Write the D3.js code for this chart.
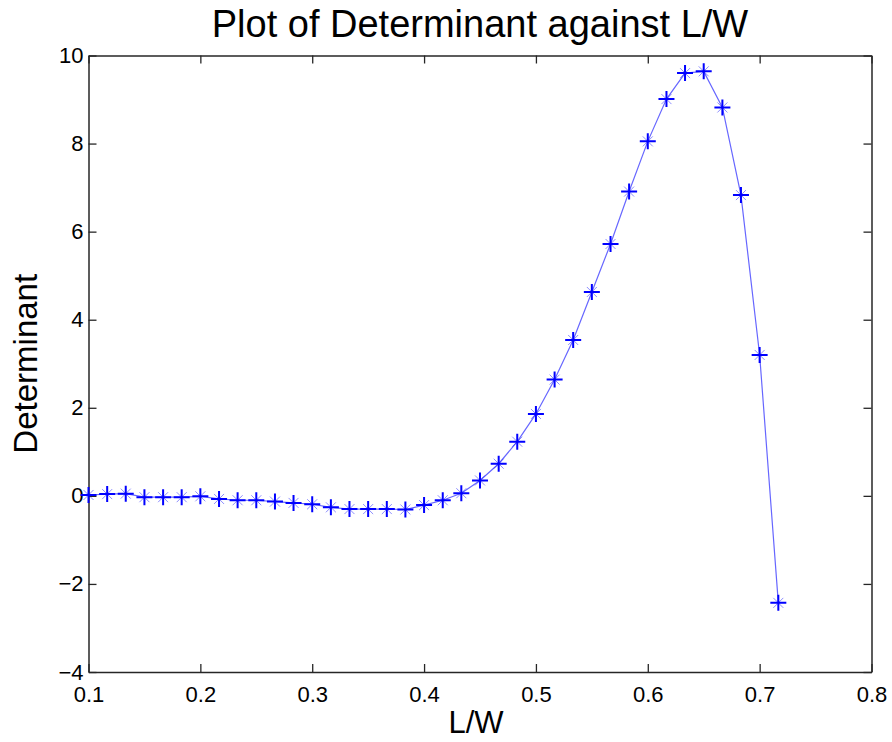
<!DOCTYPE html>
<html>
<head>
<meta charset="utf-8">
<script src="https://cdn.jsdelivr.net/npm/d3@7"></script>
<style>
	body { margin: 0; background: #fff; }
	text { font-family: "Liberation Sans", Arial, sans-serif; fill: #000; }
</style>
</head>
<body>
<div id="chart"></div>
<script>
(function() {
	// data
	var lw = [0.1, 0.1167, 0.1333, 0.15, 0.1667, 0.1833, 0.2, 0.2167, 0.2333, 0.25,
		0.2667, 0.2833, 0.3, 0.3167, 0.3333, 0.35, 0.3667, 0.3833, 0.4, 0.4167,
		0.4333, 0.45, 0.4667, 0.4833, 0.5, 0.5167, 0.5333, 0.55, 0.5667, 0.5833,
		0.6, 0.6167, 0.6333, 0.65, 0.6667, 0.6833, 0.7, 0.7167];
	var det = [0.02, 0.04, 0.05, -0.03, -0.03, -0.03, -0.01, -0.07, -0.10, -0.10,
		-0.13, -0.16, -0.19, -0.26, -0.30, -0.30, -0.30, -0.31, -0.21, -0.10,
		0.06, 0.35, 0.73, 1.23, 1.86, 2.64, 3.54, 4.63, 5.72, 6.91,
		8.05, 9.01, 9.60, 9.64, 8.82, 6.83, 3.20, -2.43];
	var xTicks = [0.1, 0.2, 0.3, 0.4, 0.5, 0.6, 0.7, 0.8];
	var yTicks = [-4, -2, 0, 2, 4, 6, 8, 10];

	var width = 892;
	var height = 742;
	var left = 88.5, right = 871.5, top = 55.5, bottom = 672;

	var svg = d3.select("#chart")
		.append("svg")
		.attr("width", width)
		.attr("height", height);

	var x = d3.scaleLinear().domain([0.1, 0.8]).range([left, right]);
	var y = d3.scaleLinear().domain([-4, 10]).range([bottom, top]);

	// axes, ticks pointing inward like matlab
	var fmtY = function(d) { return d < 0 ? "\u2212" + Math.abs(d) : d; };
	svg.append("g")
		.attr("transform", "translate(0," + bottom + ")")
		.call(d3.axisBottom(x).tickValues(xTicks).tickFormat(d3.format(".1f"))
			.tickSize(-8).tickSizeOuter(0).tickPadding(14));
	svg.append("g")
		.attr("transform", "translate(0," + top + ")")
		.call(d3.axisTop(x).tickValues(xTicks).tickFormat("").tickSize(-8).tickSizeOuter(0));
	svg.append("g")
		.attr("transform", "translate(" + left + ",0)")
		.call(d3.axisLeft(y).tickValues(yTicks).tickFormat(fmtY)
			.tickSize(-8).tickSizeOuter(0).tickPadding(5));
	svg.append("g")
		.attr("transform", "translate(" + right + ",0)")
		.call(d3.axisRight(y).tickValues(yTicks).tickFormat("").tickSize(-8).tickSizeOuter(0));

	svg.selectAll(".domain").attr("stroke", "#262626").attr("stroke-width", 1.5);
	svg.selectAll(".tick line").attr("stroke", "#262626").attr("stroke-width", 1.3);
	svg.selectAll(".tick text")
		.attr("font-size", 22)
		.attr("font-family", "Liberation Sans, Arial, sans-serif")
		.attr("fill", "#000");

	// line
	var line = d3.line()
		.x(function(d, i) { return x(lw[i]); })
		.y(function(d) { return y(d); });
	svg.append("path")
		.datum(det)
		.attr("fill", "none")
		.attr("stroke", "#0000ff")
		.attr("stroke-opacity", 0.6)
		.attr("stroke-width", 1.2)
		.attr("d", line);

	// '*' markers
	var m = svg.append("g").selectAll("g")
		.data(det)
		.enter()
		.append("g")
		.attr("transform", function(d, i) { return "translate(" + x(lw[i]) + "," + y(d) + ")"; });
	m.append("path")
		.attr("d", "M-5,-5L5,5M-5,5L5,-5")
		.attr("stroke", "#0000ff")
		.attr("stroke-opacity", 0.45)
		.attr("stroke-width", 1);
	m.append("path")
		.attr("d", "M-8,0H8M0,-8V8")
		.attr("stroke", "#0000ff")
		.attr("stroke-width", 2);

	// titles
	svg.append("text")
		.attr("x", (left + right) / 2)
		.attr("y", 37)
		.attr("text-anchor", "middle")
		.attr("font-size", 38)
		.text("Plot of Determinant against L/W");
	svg.append("text")
		.attr("x", (left + right) / 2 - 4)
		.attr("y", 733)
		.attr("text-anchor", "middle")
		.attr("font-size", 31)
		.text("L/W");
	svg.append("text")
		.attr("transform", "translate(37," + (top + bottom) / 2 + ") rotate(-90)")
		.attr("text-anchor", "middle")
		.attr("font-size", 33)
		.text("Determinant");
})();
</script>
</body>
</html>
